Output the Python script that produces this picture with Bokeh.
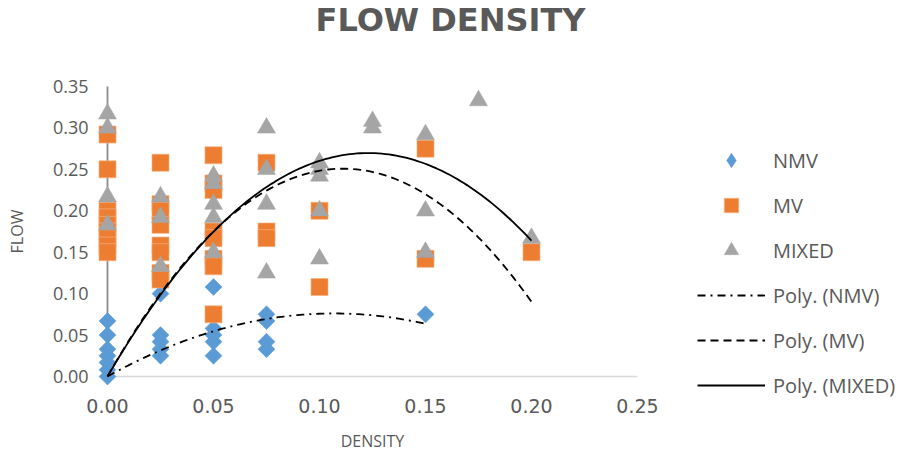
import numpy as np
from bokeh.plotting import figure
from bokeh.models import (FixedTicker, NumeralTickFormatter, Legend, LegendItem,
                          Range1d, Label)
from bokeh.embed import file_html
from bokeh.resources import INLINE

# ---- data ----
nmv_x = [0, 0, 0, 0, 0, 0, 0,
         0.025, 0.025, 0.025, 0.025, 0.025,
         0.05, 0.05, 0.05, 0.05, 0.05,
         0.075, 0.075, 0.075, 0.075,
         0.15]
nmv_y = [0.067, 0.05, 0.033, 0.025, 0.017, 0.008, 0.0,
         0.1, 0.05, 0.042, 0.033, 0.025,
         0.108, 0.058, 0.05, 0.042, 0.025,
         0.075, 0.067, 0.042, 0.033,
         0.075]

mv_x = [0, 0, 0, 0, 0, 0, 0, 0, 0,
        0.025, 0.025, 0.025, 0.025, 0.025, 0.025, 0.025, 0.025,
        0.05, 0.05, 0.05, 0.05, 0.05, 0.05, 0.05, 0.05,
        0.075, 0.075, 0.075,
        0.1, 0.1,
        0.15, 0.15,
        0.2]
mv_y = [0.292, 0.25, 0.2, 0.192, 0.183, 0.175, 0.167, 0.158, 0.15,
        0.258, 0.208, 0.2, 0.183, 0.158, 0.15, 0.125, 0.117,
        0.267, 0.233, 0.225, 0.175, 0.167, 0.142, 0.133, 0.075,
        0.258, 0.175, 0.167,
        0.2, 0.108,
        0.275, 0.142,
        0.15]

mixed_x = [0, 0, 0, 0,
           0.025, 0.025, 0.025,
           0.05, 0.05, 0.05, 0.05, 0.05,
           0.075, 0.075, 0.075, 0.075,
           0.1, 0.1, 0.1, 0.1, 0.1,
           0.125, 0.125,
           0.15, 0.15, 0.15,
           0.175,
           0.2]
mixed_y = [0.317, 0.3, 0.217, 0.183,
           0.217, 0.192, 0.133,
           0.242, 0.233, 0.208, 0.192, 0.15,
           0.3, 0.25, 0.208, 0.125,
           0.258, 0.25, 0.242, 0.2, 0.142,
           0.308, 0.3,
           0.292, 0.2, 0.15,
           0.333,
           0.167]

x_ticks = [0.0, 0.05, 0.10, 0.15, 0.20, 0.25]
y_ticks = [0.0, 0.05, 0.10, 0.15, 0.20, 0.25, 0.30, 0.35]

series_names = ["NMV", "MV", "MIXED"]
colors = ["#5B9BD5", "#ED7D31", "#A5A5A5"]
TEXT = "#595959"
FONT = "Open Sans"


def poly2_fit(xs, ys):
    # second order polynomial trendline through the origin (fit of the data)
    xs = np.asarray(xs, float)
    ys = np.asarray(ys, float)
    A = np.column_stack([xs, xs ** 2])
    coef, *_ = np.linalg.lstsq(A, ys, rcond=None)
    xx = np.linspace(0, xs.max(), 120)
    return xx, coef[0] * xx + coef[1] * xx ** 2


# the frame is the whole canvas; axes are pinned at x=0 / y=0
p = figure(width=908, height=457, output_backend="svg", toolbar_location=None,
           x_range=Range1d(-0.05047, 0.37783), y_range=Range1d(-0.09776, 0.45379),
           min_border_left=0, min_border_right=0, min_border_top=0,
           min_border_bottom=0)
p.outline_line_color = None
p.xgrid.visible = False
p.ygrid.visible = False
p.background_fill_color = "white"
p.border_fill_color = "white"

# axis lines as Excel draws them (under the markers)
p.segment(x0=[x_ticks[0]], y0=[y_ticks[0]], x1=[x_ticks[-1]], y1=[y_ticks[0]],
          line_color="#D9D9D9", line_width=1.5)
p.segment(x0=[x_ticks[0]], y0=[y_ticks[0]], x1=[x_ticks[0]], y1=[y_ticks[-1]],
          line_color="#8C8C8C", line_width=1.8)

# diamond key for the legend (hidden beneath the NMV diamonds)
r_nmv_key = p.scatter(nmv_x, nmv_y, marker="diamond", size=12,
                      fill_color=colors[0], line_color=colors[0], line_width=0.5)
r_nmv = p.scatter(nmv_x, nmv_y, marker="square", angle=np.pi / 4, size=12,
                  fill_color=colors[0], line_color=colors[0], line_width=0.5)
r_mv = p.scatter(mv_x, mv_y, marker="square", size=17,
                 fill_color=colors[1], line_color="#F4B183", line_width=0.7)
r_mix = p.scatter(mixed_x, mixed_y, marker="triangle", size=18,
                  fill_color=colors[2], line_color=colors[2], line_width=0.5)

fx, fy = poly2_fit(nmv_x, nmv_y)
t_nmv = p.line(fx, fy, line_color="black", line_width=1.8, line_dash="8 5 2 5")
fx, fy = poly2_fit(mv_x, mv_y)
t_mv = p.line(fx, fy, line_color="black", line_width=1.8, line_dash="8 5")
fx, fy = poly2_fit(mixed_x, mixed_y)
t_mix = p.line(fx, fy, line_color="black", line_width=1.8)

for ax in (p.xaxis, p.yaxis):
    ax.axis_line_color = None
    ax.major_tick_line_color = None
    ax.minor_tick_line_color = None
    ax.major_tick_out = 0
    ax.major_tick_in = 0
    ax.major_label_text_font = FONT
    ax.major_label_text_font_size = "18px"
    ax.major_label_text_color = TEXT
    ax.axis_label_text_font = FONT
    ax.axis_label_text_font_size = "16px"
    ax.axis_label_text_font_style = "normal"
    ax.axis_label_text_color = TEXT
    ax.formatter = NumeralTickFormatter(format="0.00")
    ax.fixed_location = 0

p.xaxis.bounds = (x_ticks[0], x_ticks[-1])
p.yaxis.bounds = (y_ticks[0], y_ticks[-1])
p.xaxis.major_label_text_font = "DejaVu Sans"
p.xaxis.major_label_text_font_size = "19px"
p.xaxis.ticker = FixedTicker(ticks=x_ticks)
p.yaxis.ticker = FixedTicker(ticks=y_ticks)
p.xaxis.major_label_standoff = 23
p.yaxis.major_label_standoff = 19
p.xaxis.axis_label = "DENSITY"
p.yaxis.axis_label = "FLOW"
p.xaxis.axis_label_standoff = 13
p.yaxis.axis_label_standoff = 22

legend = Legend(items=[
    LegendItem(label=series_names[0], renderers=[r_nmv_key]),
    LegendItem(label=series_names[1], renderers=[r_mv]),
    LegendItem(label=series_names[2], renderers=[r_mix]),
    LegendItem(label="Poly. (" + series_names[0] + ")", renderers=[t_nmv]),
    LegendItem(label="Poly. (" + series_names[1] + ")", renderers=[t_mv]),
    LegendItem(label="Poly. (" + series_names[2] + ")", renderers=[t_mix]),
], location=(697, 54))
legend.glyph_width = 68
legend.glyph_height = 36
legend.label_height = 36
legend.spacing = 9
legend.padding = 0
legend.margin = 0
legend.label_standoff = 8
legend.border_line_color = None
legend.background_fill_alpha = 0
legend.label_text_font = FONT
legend.label_text_font_size = "20px"
legend.label_text_color = TEXT
p.add_layout(legend)

title = Label(x=0.1618, y=0.4297, text="FLOW DENSITY", text_font="DejaVu Sans",
              text_font_size="32px", text_font_style="bold", text_color=TEXT,
              text_align="center", text_baseline="alphabetic")
p.add_layout(title)

open("out.html", "w").write(file_html(p, INLINE))
